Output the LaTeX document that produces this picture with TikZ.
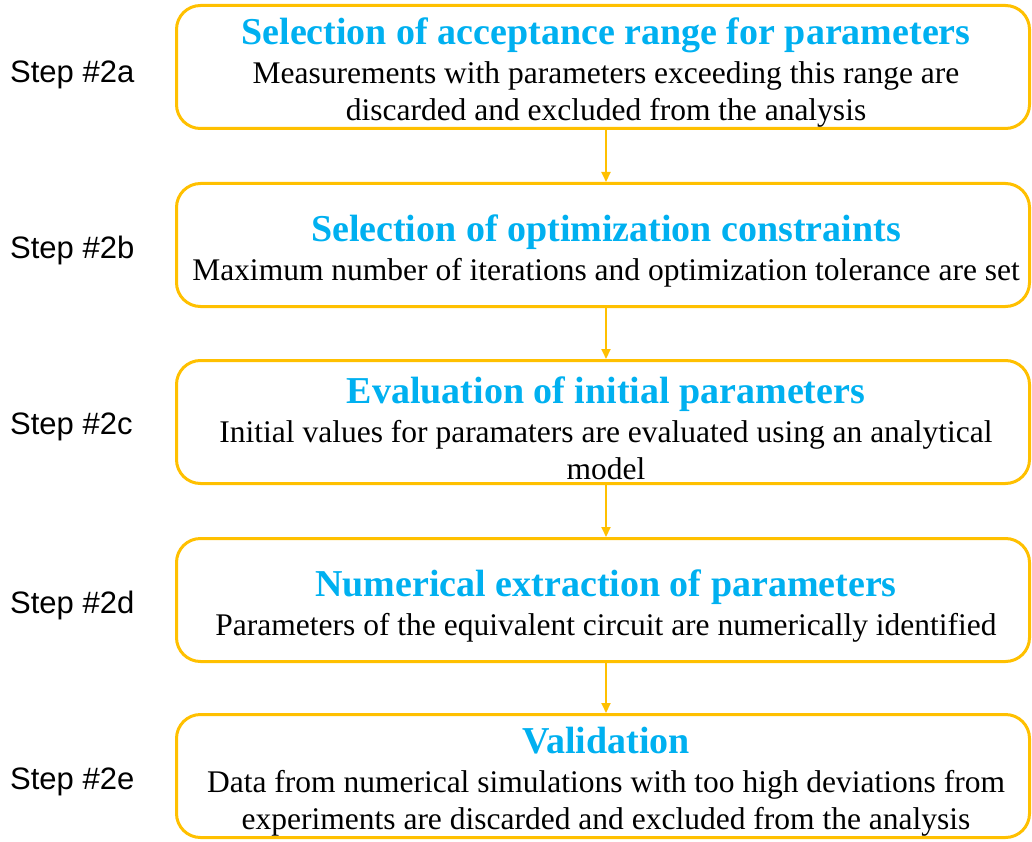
\documentclass[tikz,border=0pt]{standalone}
\usepackage{fontspec}
\setmainfont{Liberation Serif}
\newfontfamily\stepfont{Liberation Sans}
\usetikzlibrary{arrows.meta}
\definecolor{boxgold}{RGB}{255,192,0}
\definecolor{headblue}{RGB}{0,176,240}
\newcommand{\boxhead}[1]{{\color{headblue}\bfseries\fontsize{38}{42}\selectfont #1}}

\begin{document}
\begin{tikzpicture}[x=1pt,y=-1pt,
    stepbox/.style={draw=boxgold,line width=3pt,rounded corners=24pt,
      minimum width=853pt,minimum height=123pt,inner sep=0pt},
    steptext/.style={align=center,inner sep=0pt,font=\fontsize{31.5}{37}\selectfont},
    steplabel/.style={anchor=west,inner sep=0pt,font=\stepfont\fontsize{31}{36}\selectfont},
    flow/.style={draw=boxgold,line width=2pt,-{Triangle[length=10pt,width=9pt]}}]
  \useasboundingbox (0,0) rectangle (1032,842);
  % the five boxes
  \foreach \n/\y in {sa/67,sb/245,sc/422,sd/600,se/776}
    \node[stepbox] (\n) at (603,\y) {};
  % their texts
  \node[steptext] (ta) at ([shift={(3,6)}]sa.center) {\boxhead{Selection of acceptance range for parameters}\\[2pt]
    Measurements with parameters exceeding this range are\\
    discarded and excluded from the analysis};
  \node[steptext] (tb) at ([shift={(3,6)}]sb.center) {\boxhead{Selection of optimization constraints}\\[2pt]
    Maximum number of iterations and optimization tolerance are set};
  \node[steptext] (tc) at ([shift={(3,6)}]sc.center) {\boxhead{Evaluation of initial parameters}\\[2pt]
    Initial values for paramaters are evaluated using an analytical\\
    model};
  \node[steptext] (td) at ([shift={(3,6)}]sd.center) {\boxhead{Numerical extraction of parameters}\\[2pt]
    Parameters of the equivalent circuit are numerically identified};
  \node[steptext] (te) at ([shift={(3,6)}]se.center) {\boxhead{Validation}\\[2pt]
    Data from numerical simulations with too high deviations from\\
    experiments are discarded and excluded from the analysis};
  % labels on the left
  \node[steplabel] (la) at (10,75) {Step \#2a};
  \node[steplabel] (lb) at (10,250) {Step \#2b};
  \node[steplabel] (lc) at (10,427) {Step \#2c};
  \node[steplabel] (ld) at (10,605) {Step \#2d};
  \node[steplabel] (le) at (10,782) {Step \#2e};
  % arrows between steps
  \foreach \a/\b in {sa/sb,sb/sc,sc/sd,sd/se}
    \draw[flow] (\a.south -| 606,0) -- (\b.north -| 606,0);
\end{tikzpicture}
\end{document}
